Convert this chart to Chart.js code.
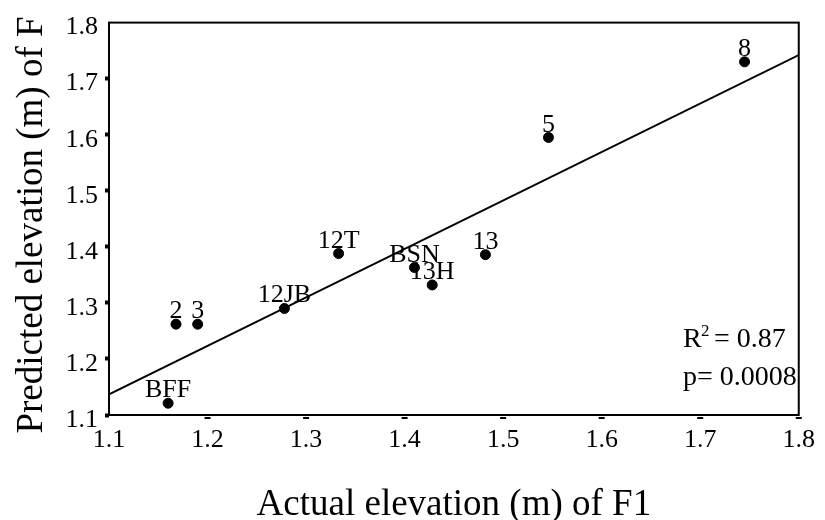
<!DOCTYPE html>
<html>
<head>
<meta charset="utf-8">
<script src="https://cdn.jsdelivr.net/npm/chart.js@4.4.1/dist/chart.umd.min.js"></script>
<style>
  html, body { margin: 0; padding: 0; background: #fff; }
  #wrap { width: 825px; height: 520px; position: relative; }
</style>
</head>
<body>
<div id="wrap"><canvas id="elevChart"></canvas></div>
<script>
// site names and elevations (m)
var siteNames = ['BFF', '2', '3', '12JB', '12T', 'BSN', '13H', '13', '5', '8'];
var actualElev = [1.16, 1.168, 1.19, 1.278, 1.333, 1.41, 1.428, 1.482, 1.546, 1.745];
var predictedElev = [1.121, 1.262, 1.262, 1.29, 1.388, 1.363, 1.332, 1.386, 1.595, 1.73];

// end points of the fitted line
var fitX = [1.1, 1.8];
var fitY = [1.137, 1.742];

var axisMin = 1.1;
var axisMax = 1.8;
var axisStep = 0.1;

var serif = "'Liberation Serif', 'Times New Roman', serif";

var points = siteNames.map(function (name, i) {
    return { x: actualElev[i], y: predictedElev[i] };
});
var fitLine = fitX.map(function (x, i) {
    return { x: x, y: fitY[i] };
});

// box around the plot, x tick dashes, point names, axis titles and stats
var decorations = {
    id: 'decorations',
    afterDraw: function (chart) {
        var c = chart.ctx;
        var area = chart.chartArea;
        var xs = chart.scales.x;
        c.save();

        c.strokeStyle = '#000';
        c.lineWidth = 2;
        c.strokeRect(area.left, area.top, area.right - area.left, area.bottom - area.top);

        // short dashes under the x axis
        c.fillStyle = '#000';
        xs.ticks.forEach(function (t, i) {
            if (i === 0) return;
            var px = xs.getPixelForValue(t.value);
            c.fillRect(px - 3, area.bottom + 2, 6, 2);
        });

        // site names above each point
        c.font = '26px ' + serif;
        c.textAlign = 'center';
        c.textBaseline = 'alphabetic';
        var meta = chart.getDatasetMeta(0);
        meta.data.forEach(function (el, i) {
            c.fillText(siteNames[i], el.x, el.y - 6);
        });

        // axis titles
        c.font = '37px ' + serif;
        c.fillText('Actual elevation (m) of F1', (area.left + area.right) / 2, 515);
        c.save();
        c.translate(42, 225);
        c.rotate(-Math.PI / 2);
        c.fillText('Predicted elevation (m) of F', 0, 0);
        c.restore();

        // fit statistics
        c.textAlign = 'left';
        c.font = '28px ' + serif;
        c.fillText('R', 683, 347);
        c.fillText('= 0.87', 714, 347);
        c.fillText('p= 0.0008', 683, 385);
        c.font = '17px ' + serif;
        c.fillText('2', 701, 336);

        c.restore();
    }
};

var chart = new Chart(document.getElementById('elevChart').getContext('2d'), {
    type: 'scatter',
    data: {
        datasets: [
            {
                data: points,
                backgroundColor: '#000',
                borderColor: '#000',
                pointRadius: 5,
                pointHoverRadius: 5
            },
            {
                type: 'line',
                data: fitLine,
                borderColor: '#000',
                borderWidth: 2,
                pointRadius: 0,
                fill: false
            }
        ]
    },
    options: {
        responsive: true,
        maintainAspectRatio: false,
        animation: false,
        layout: { padding: { top: 16, right: 22, bottom: 0, left: 0 } },
        plugins: {
            legend: { display: false },
            tooltip: { enabled: false }
        },
        scales: {
            x: {
                type: 'linear',
                min: axisMin,
                max: axisMax,
                border: { display: false },
                grid: { drawOnChartArea: false, drawTicks: false },
                ticks: {
                    stepSize: axisStep,
                    padding: 10,
                    color: '#000',
                    font: { family: serif, size: 26 },
                    maxRotation: 0,
                    callback: function (v) { return v.toFixed(1); }
                },
                afterFit: function (scale) { scale.height = 105; }
            },
            y: {
                type: 'linear',
                min: axisMin,
                max: axisMax,
                border: { display: false },
                grid: {
                    drawOnChartArea: false,
                    drawTicks: true,
                    tickLength: 4,
                    tickWidth: 4,
                    tickColor: function (ctx) {
                        return ctx.index === 7 ? 'rgba(0,0,0,0)' : '#000';
                    }
                },
                ticks: {
                    stepSize: axisStep,
                    padding: 7,
                    labelOffset: 5,
                    color: '#000',
                    font: { family: serif, size: 26 },
                    callback: function (v) { return v.toFixed(1); }
                },
                afterFit: function (scale) { scale.width = 109; }
            }
        }
    },
    plugins: [decorations]
});
</script>
</body>
</html>
